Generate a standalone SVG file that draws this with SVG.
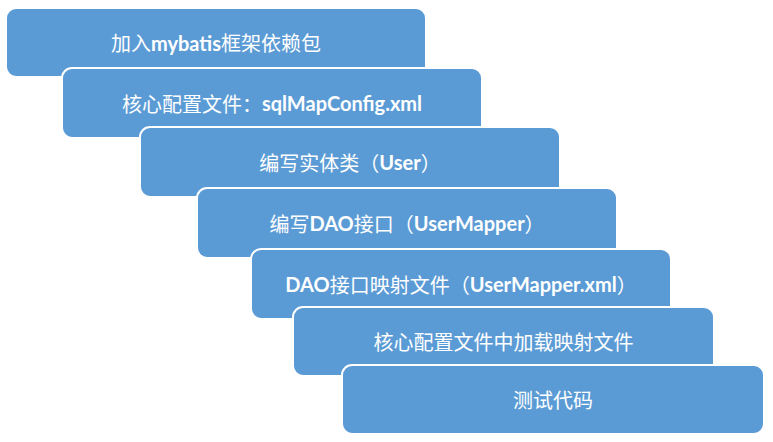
<svg xmlns="http://www.w3.org/2000/svg" width="773" height="442" viewBox="0 0 773 442">
<style>
.box{fill:#5b9bd5;stroke:#ffffff;stroke-width:2}
.t{font-family:"Noto Sans CJK SC","Noto Sans",sans-serif;font-size:20px;fill:#ffffff;text-anchor:middle;dominant-baseline:central}
.b{font-family:Lato,"Noto Sans",sans-serif;font-weight:bold}
</style>
<rect width="773" height="442" fill="#ffffff"/>
<g id="connectors"></g>
<g id="n1"><rect class="box" x="6" y="8" width="420" height="69" rx="10"/><text class="t" x="216" y="42.5">加入<tspan class="b">mybatis</tspan>框架依赖包</text></g>
<g id="n2"><rect class="box" x="62" y="68" width="420" height="70" rx="10"/><text class="t" x="272" y="103">核心配置文件：<tspan class="b">sqlMapConfig.xml</tspan></text></g>
<g id="n3"><rect class="box" x="140" y="127" width="420" height="70" rx="10"/><text class="t" x="350" y="162">编写实体类（<tspan class="b">User</tspan>）</text></g>
<g id="n4"><rect class="box" x="197" y="188" width="420" height="70" rx="10"/><text class="t" x="407" y="223">编写<tspan class="b">DAO</tspan>接口（<tspan class="b">UserMapper</tspan>）</text></g>
<g id="n5"><rect class="box" x="251" y="249" width="420" height="70" rx="10"/><text class="t" x="461" y="284"><tspan class="b">DAO</tspan>接口映射文件（<tspan class="b">UserMapper.xml</tspan>）</text></g>
<g id="n6"><rect class="box" x="293" y="307" width="421" height="69" rx="10"/><text class="t" x="503.5" y="341.5">核心配置文件中加载映射文件</text></g>
<g id="n7"><rect class="box" x="342" y="365" width="422" height="69" rx="10"/><text class="t" x="553" y="399.5">测试代码</text></g>
</svg>
